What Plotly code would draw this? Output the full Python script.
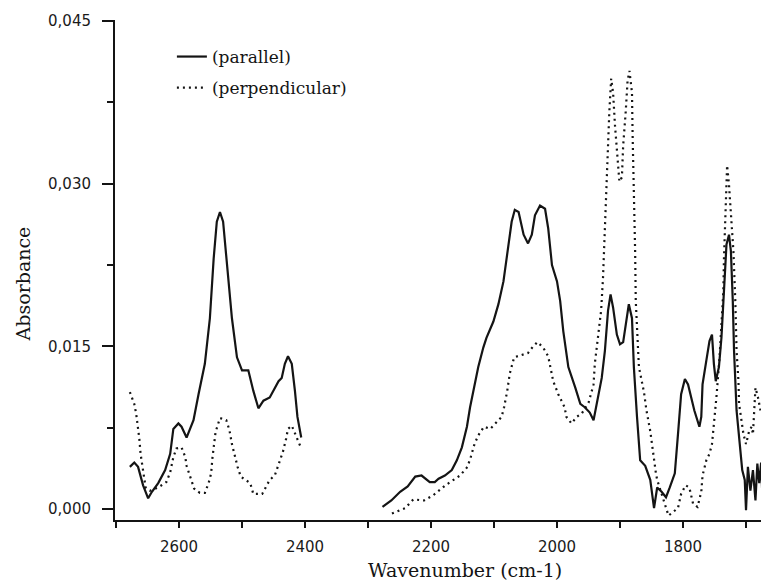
import plotly.graph_objects as go

# ---- data (wavenumber cm-1, absorbance) ----
par_hi_x = [2678, 2671, 2665, 2657, 2649, 2643, 2633, 2622, 2614, 2609,
            2601, 2596, 2588, 2577, 2569, 2559, 2551, 2545, 2540, 2535,
            2530, 2524, 2516, 2508, 2500, 2490, 2482, 2474, 2466, 2456,
            2448, 2442, 2437, 2432, 2427, 2421, 2416, 2412, 2406]
par_hi_y = [0.0039, 0.0043, 0.0039, 0.0022, 0.0010, 0.0016, 0.0024, 0.0036, 0.0051, 0.0074,
            0.0079, 0.0076, 0.0066, 0.0082, 0.0106, 0.0134, 0.0176, 0.0231, 0.0265, 0.0274,
            0.0265, 0.0226, 0.0176, 0.0140, 0.0128, 0.0128, 0.0109, 0.0093, 0.0100, 0.0103,
            0.0111, 0.0118, 0.0121, 0.0134, 0.0141, 0.0134, 0.0109, 0.0085, 0.0066]

par_lo_x = [2277, 2263, 2249, 2237, 2225, 2215, 2202, 2194, 2188, 2178,
            2167, 2159, 2151, 2143, 2138, 2133, 2125, 2117, 2112, 2101,
            2093, 2085, 2077, 2072, 2067, 2061, 2053, 2046, 2040, 2035,
            2027, 2019, 2014, 2008, 2000, 1995, 1990, 1982, 1971, 1963,
            1956, 1948, 1942, 1937, 1929, 1924, 1919, 1915, 1911, 1905,
            1900, 1895, 1890, 1886, 1881, 1878, 1873, 1868, 1860, 1852,
            1846, 1841, 1834, 1827, 1821, 1813, 1808, 1803, 1797, 1792,
            1782, 1774, 1771, 1769, 1763, 1758, 1754, 1751, 1748, 1743,
            1739, 1735, 1731, 1727, 1724, 1721, 1719, 1715, 1711, 1706,
            1702, 1700, 1697, 1693, 1689, 1685, 1682, 1679, 1676, 1674]
par_lo_y = [0.0002, 0.0008, 0.0016, 0.0021, 0.0030, 0.0031, 0.0025, 0.0025, 0.0028, 0.0031,
            0.0036, 0.0045, 0.0057, 0.0076, 0.0094, 0.0109, 0.0131, 0.0149, 0.0158, 0.0173,
            0.0189, 0.0210, 0.0241, 0.0265, 0.0276, 0.0274, 0.0253, 0.0245, 0.0253, 0.0271,
            0.0280, 0.0277, 0.0259, 0.0225, 0.0210, 0.0192, 0.0164, 0.0131, 0.0112, 0.0097,
            0.0094, 0.0089, 0.0082, 0.0097, 0.0121, 0.0146, 0.0183, 0.0198, 0.0186, 0.0161,
            0.0152, 0.0154, 0.0176, 0.0189, 0.0176, 0.0131, 0.0085, 0.0045, 0.0040, 0.0027,
            0.0001, 0.0020, 0.0016, 0.0011, 0.0020, 0.0033, 0.0069, 0.0106, 0.0120, 0.0115,
            0.0091, 0.0076, 0.0085, 0.0115, 0.0137, 0.0155, 0.0161, 0.0134, 0.0118, 0.0131,
            0.0158, 0.0201, 0.0244, 0.0253, 0.0238, 0.0192, 0.0146, 0.0091, 0.0063, 0.0036,
            0.0027, -0.0001, 0.0039, 0.0017, 0.0036, 0.0008, 0.0042, 0.0024, 0.0043, 0.0011]

perp_hi_x = [2678, 2671, 2668, 2666, 2663, 2661, 2659, 2656, 2653, 2646,
             2633, 2620, 2614, 2609, 2604, 2596, 2590, 2588, 2580, 2576,
             2567, 2559, 2553, 2549, 2547, 2544, 2542, 2535, 2525, 2520,
             2516, 2507, 2502, 2487, 2482, 2468, 2456, 2448, 2441, 2435,
             2430, 2427, 2421, 2415, 2406]
perp_hi_y = [0.0108, 0.0097, 0.0088, 0.0080, 0.0065, 0.0051, 0.0042, 0.0030, 0.0020, 0.0017,
             0.0020, 0.0025, 0.0034, 0.0048, 0.0056, 0.0057, 0.0048, 0.0040, 0.0027, 0.0019,
             0.0015, 0.0015, 0.0024, 0.0033, 0.0047, 0.0063, 0.0071, 0.0084, 0.0082, 0.0073,
             0.0060, 0.0039, 0.0030, 0.0024, 0.0014, 0.0014, 0.0027, 0.0031, 0.0043, 0.0053,
             0.0065, 0.0074, 0.0077, 0.0068, 0.0056]

perp_lo_x = [2262, 2241, 2228, 2211, 2196, 2177, 2154, 2142, 2137, 2131,
             2125, 2116, 2106, 2088, 2084, 2079, 2075, 2068, 2046, 2038,
             2031, 2022, 2014, 2006, 1998, 1988, 1985, 1977, 1969, 1961,
             1950, 1942, 1940, 1934, 1930, 1927, 1925, 1922, 1920, 1917,
             1914, 1911, 1908, 1904, 1901, 1897, 1895, 1891, 1888, 1885,
             1881, 1880, 1878, 1876, 1875, 1873, 1870, 1862, 1858, 1852,
             1847, 1843, 1841, 1823, 1808, 1803, 1796, 1790, 1784, 1777,
             1771, 1769, 1763, 1758, 1754, 1751, 1747, 1742, 1739, 1736,
             1735, 1733, 1731, 1730, 1727, 1724, 1720, 1717, 1715, 1712,
             1711, 1704, 1700, 1695, 1691, 1689, 1685, 1681, 1677]
perp_lo_y = [-0.0004, 0.0001, 0.0009, 0.0008, 0.0013, 0.0022, 0.0031, 0.0039, 0.0048, 0.0060,
             0.0068, 0.0076, 0.0074, 0.0085, 0.0094, 0.0109, 0.0125, 0.0140, 0.0144, 0.0150,
             0.0154, 0.0149, 0.0141, 0.0118, 0.0106, 0.0094, 0.0085, 0.0079, 0.0085, 0.0088,
             0.0098, 0.0115, 0.0134, 0.0161, 0.0183, 0.0213, 0.0247, 0.0283, 0.0320, 0.0366,
             0.0397, 0.0384, 0.0354, 0.0323, 0.0302, 0.0306, 0.0335, 0.0366, 0.0395, 0.0404,
             0.0384, 0.0345, 0.0299, 0.0238, 0.0192, 0.0161, 0.0131, 0.0108, 0.0091, 0.0072,
             0.0048, 0.0033, 0.0027, -0.0006, 0.0001, 0.0014, 0.0022, 0.0020, 0.0005, 0.0002,
             0.0016, 0.0031, 0.0045, 0.0051, 0.0060, 0.0077, 0.0103, 0.0140, 0.0176, 0.0201,
             0.0231, 0.0268, 0.0299, 0.0317, 0.0299, 0.0271, 0.0238, 0.0192, 0.0146, 0.0118,
             0.0097, 0.0069, 0.0060, 0.0072, 0.0076, 0.0069, 0.0112, 0.0103, 0.0091]

x_ticks = [2600, 2400, 2200, 2000, 1800]
y_ticks = [0.000, 0.015, 0.030, 0.045]

series_names = ["(parallel)", "(perpendicular)"]
x_title = "Wavenumber (cm-1)"
y_title = "Absorbance"

# ---- figure ----
par_x = par_hi_x + [None] + par_lo_x
par_y = par_hi_y + [None] + par_lo_y
perp_x = perp_hi_x + [None] + perp_lo_x
perp_y = perp_hi_y + [None] + perp_lo_y

ink = "#141414"

fig = go.Figure()
fig.add_trace(go.Scatter(
    x=par_x, y=par_y, mode="lines", name=series_names[0],
    line=dict(color=ink, width=2.2), connectgaps=False,
    legendgroup="a"))
fig.add_trace(go.Scatter(
    x=perp_x, y=perp_y, mode="lines", name=series_names[1],
    line=dict(color=ink, width=2.2, dash="2px,4px"), connectgaps=False,
    legendgroup="b"))

tick_font = dict(family="DejaVu Sans", size=15, color="#1a1a1a")
serif = "DejaVu Serif"

# The page body has an 8px default margin, so the figure is sized 8px smaller.
fig.update_layout(
    width=761, height=574,
    margin=dict(l=107, r=0, t=12, b=62, autoexpand=False),
    paper_bgcolor="white", plot_bgcolor="white",
    separators=",.",
    showlegend=True,
    legend=dict(
        x=0.087, y=0.962, xanchor="left", yanchor="top",
        bgcolor="rgba(0,0,0,0)", borderwidth=0,
        font=dict(family=serif, size=17, color=ink),
        tracegroupgap=6,
    ),
    xaxis=dict(
        range=[2701.6, 1663.5], automargin=False,
        tickmode="array", tickvals=x_ticks,
        ticks="outside", ticklen=6, tickwidth=2, tickcolor=ink,
        showline=True, linewidth=2, linecolor=ink,
        showgrid=False, zeroline=False,
        tickfont=tick_font, ticklabelstandoff=6,
        minor=dict(dtick=100, tick0=0, ticks="outside", ticklen=6,
                   tickwidth=2, tickcolor=ink, showgrid=False),
    ),
    yaxis=dict(
        range=[-0.001, 0.0451], automargin=False,
        tickmode="array", tickvals=y_ticks, tickformat=".3f",
        ticks="outside", ticklen=11, tickwidth=2, tickcolor=ink,
        showline=True, linewidth=2, linecolor=ink,
        showgrid=False, zeroline=False,
        tickfont=tick_font, ticklabelstandoff=8,
        minor=dict(dtick=0.0075, tick0=0, ticks="outside", ticklen=6,
                   tickwidth=2, tickcolor=ink, showgrid=False),
    ),
    annotations=[
        dict(text=x_title, xref="paper", yref="paper",
             x=(465 - 115) / 654, y=-0.1, xanchor="center", yanchor="middle",
             showarrow=False, font=dict(family=serif, size=19, color=ink)),
        dict(text=y_title, xref="paper", yref="paper",
             x=-0.14, y=(520 - 284) / 500, xanchor="center", yanchor="middle",
             textangle=-90, showarrow=False,
             font=dict(family=serif, size=19, color=ink)),
    ],
)

fig.write_html("out.html")
